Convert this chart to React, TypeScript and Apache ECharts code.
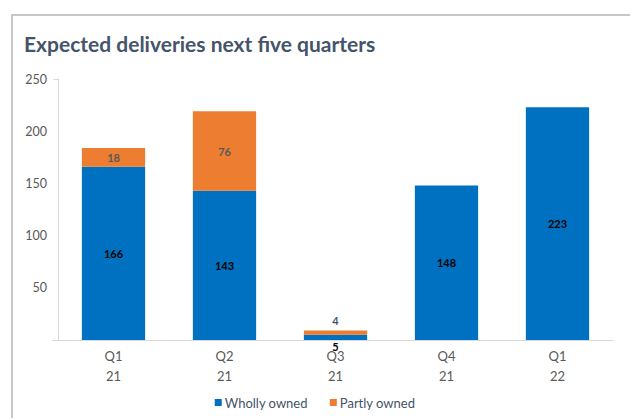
import React, { useEffect, useRef } from "react";
import * as echarts from "echarts";

const categories = ["Q1\n21", "Q2\n21", "Q3\n21", "Q4\n21", "Q1\n22"];
const whollyOwned = [166, 143, 5, 148, 223];
const partlyOwned = [18, 76, 4, 0, 0];
const yTicks = [0, 50, 100, 150, 200, 250];

const BLUE = "#0070C0";
const ORANGE = "#ED7D31";
const FONT = "Lato";

export default function App() {
  const ref = useRef<HTMLDivElement>(null);
  useEffect(() => {
    document.body.style.margin = "0";
    const chart = echarts.init(ref.current!, null, { renderer: "svg" });
    const small = (v: number, i: number) => i === 2;
    chart.setOption({
      animation: false,
      backgroundColor: "#ffffff",
      textStyle: { fontFamily: FONT },
      title: {
        text: "Expected deliveries next five quarters",
        left: 19,
        top: 28,
        textStyle: { fontFamily: FONT, fontSize: 21, fontWeight: "bold", color: "#44546A" },
      },
      graphic: [
        {
          type: "rect",
          shape: { x: 12, y: 15, width: 700, height: 500 },
          style: { fill: "none", stroke: "#C8C8C8", lineWidth: 2 },
          silent: true,
        },
        {
          type: "line",
          shape: { x1: 53, y1: 79.5, x2: 58, y2: 79.5 },
          style: { stroke: "#D9D9D9", lineWidth: 1 },
          silent: true,
        },
        {
          type: "line",
          shape: { x1: 52, y1: 340.5, x2: 58, y2: 340.5 },
          style: { stroke: "#D9D9D9", lineWidth: 1 },
          silent: true,
        },
      ],
      legend: {
        bottom: 4,
        left: "center",
        icon: "rect",
        itemWidth: 7,
        itemHeight: 7,
        itemGap: 22,
        textStyle: { fontFamily: FONT, fontSize: 13, color: "#44546A", padding: [0, 0, 0, -2] },
        data: ["Wholly owned", "Partly owned"],
      },
      grid: { left: 58, right: 17, top: 79, bottom: 78, containLabel: false },
      xAxis: {
        type: "category",
        data: categories,
        axisLine: { lineStyle: { color: "#D9D9D9", width: 1 } },
        axisTick: { show: false },
        axisLabel: {
          fontFamily: FONT,
          fontSize: 13,
          color: "#595959",
          lineHeight: 20,
          margin: 6,
        },
      },
      yAxis: {
        type: "value",
        min: yTicks[0],
        max: yTicks[yTicks.length - 1],
        interval: 50,
        splitLine: { show: false },
        axisLine: { show: true, lineStyle: { color: "#D9D9D9", width: 1 } },
        axisTick: { show: false },
        axisLabel: {
          fontFamily: FONT,
          fontSize: 12.5,
          color: "#595959",
          margin: 11,
          formatter: (v: number) => (v === 0 ? "" : String(v)),
        },
      },
      series: [
        {
          name: "Wholly owned",
          type: "bar",
          stack: "total",
          barWidth: "57%",
          itemStyle: { color: BLUE },
          label: {
            show: true,
            position: "inside",
            fontFamily: FONT,
            fontSize: 11,
            fontWeight: "bold",
            color: "#000000",
          },
          data: whollyOwned.map((v, i) =>
            small(v, i)
              ? { value: v, label: { position: "bottom", distance: 1 } }
              : { value: v }
          ),
        },
        {
          name: "Partly owned",
          type: "bar",
          stack: "total",
          barWidth: "57%",
          itemStyle: { color: ORANGE },
          label: {
            show: true,
            position: "inside",
            fontFamily: FONT,
            fontSize: 11,
            fontWeight: "bold",
            color: "#595959",
            formatter: (p: any) => (p.value ? String(p.value) : ""),
          },
          data: partlyOwned.map((v, i) =>
            small(v, i)
              ? { value: v, label: { position: "top", distance: 5, color: "#44546A" } }
              : { value: v }
          ),
        },
      ],
    });
    return () => chart.dispose();
  }, []);
  return (
    <div
      ref={ref}
      style={{ position: "absolute", left: 0, top: 0, width: 630, height: 418 }}
    />
  );
}
